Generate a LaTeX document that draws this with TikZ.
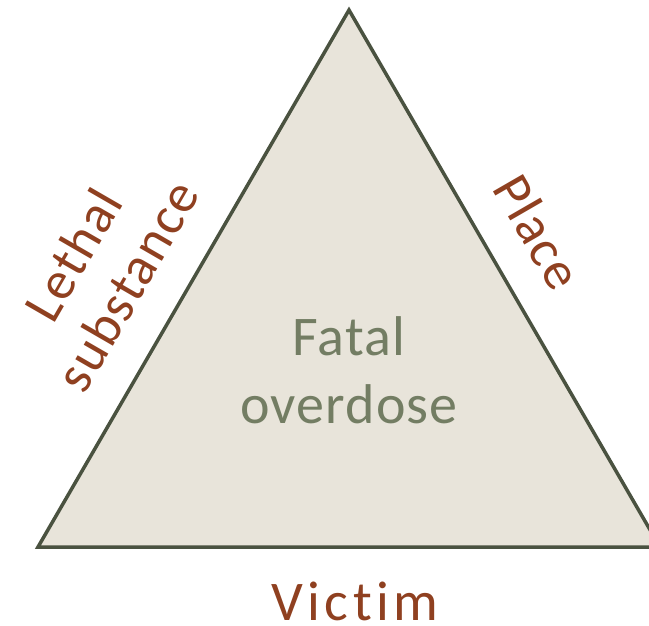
\documentclass[tikz,border=0pt]{standalone}
\usepackage{fontspec}
\setmainfont[Ligatures=NoCommon]{Carlito}
\newfontfamily\lblfont[Ligatures=NoCommon,LetterSpace=8]{Carlito}
\newfontfamily\sidefont[Ligatures=NoCommon,LetterSpace=3]{Carlito}
\newfontfamily\ctrfont[Ligatures=NoCommon,LetterSpace=2]{Carlito}
\definecolor{trifill}{HTML}{E8E4DA}
\definecolor{tristroke}{HTML}{4A5240}
\definecolor{rust}{HTML}{8F4020}
\definecolor{olivetext}{HTML}{737D63}
\begin{document}
\begin{tikzpicture}[x=1pt,y=-1pt,
  lbl/.style={text=rust,font=\lblfont\fontsize{56}{62}\selectfont,align=center,inner sep=0pt},
  side/.style={text=rust,font=\sidefont\fontsize{54}{62}\selectfont,align=center,inner sep=0pt},
  ctr/.style={text=olivetext,font=\ctrfont\fontsize{56}{68}\selectfont,align=center,inner sep=0pt}]
\useasboundingbox (0,0) rectangle (649,625);
\clip (0,0) rectangle (649,625);
\coordinate (apex) at (349,10);
\coordinate (bl) at (38,547);
\coordinate (br) at (660,547);
\draw[fill=trifill,draw=tristroke,line width=3.5pt,line join=miter] (apex) -- (bl) -- (br) -- cycle;
\node[ctr] (center) at (349,370) {Fatal\\overdose};
\node[lbl,anchor=base] (victim) at (355,620) {Victim};
\node[side,rotate=60] (lethal) at (100,270) {Lethal\\substance};
\node[side,rotate=-60] (place) at (538,232) {Place};
\end{tikzpicture}
\end{document}
